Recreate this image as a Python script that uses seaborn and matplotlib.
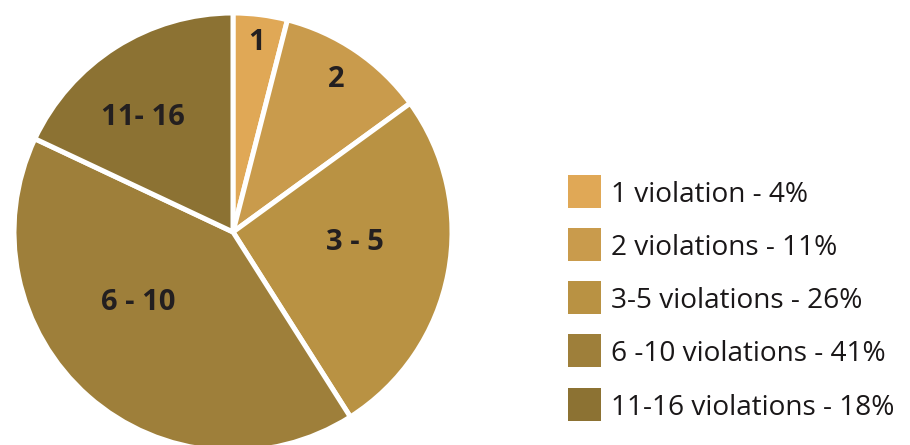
import matplotlib
matplotlib.use("Agg")
import matplotlib.pyplot as plt
import seaborn as sns
import numpy as np
from matplotlib.patches import Rectangle

# Data
categories = ["1", "2", "3 - 5", "6 - 10", "11- 16"]
legend_labels = ["1 violation - 4%", "2 violations - 11%", "3-5 violations - 26%",
                 "6 -10 violations - 41%", "11-16 violations - 18%"]
values = [4, 11, 26, 41, 18]
colors = ["#E0A856", "#C99B4C", "#B99243", "#9E7F3A", "#8C7233"]

# Layout / style for in-slice labels
label_radius = [0.87, 0.84, 0.56, 0.54, 0.665]
label_angle_offset = [0, 0, 6, -12, 6]

sns.set_theme(style="white")
plt.rcParams['font.family'] = ['Open Sans', 'DejaVu Sans']

fig = plt.figure(figsize=(9.1, 4.45), dpi=100)
W, H = 910, 445
cx, cy, R = 233, 232, 219
ax = fig.add_axes([(cx - R) / W, (H - cy - R) / H, 2 * R / W, 2 * R / H])

pal = sns.color_palette(colors)
wedges, _ = ax.pie(values, colors=pal, startangle=90, counterclock=False,
                   radius=1.0, wedgeprops=dict(edgecolor="white", linewidth=3.6))
ax.set_xlim(-1, 1)
ax.set_ylim(-1, 1)
ax.axis("off")
for w, lab, r, off in zip(wedges, categories, label_radius, label_angle_offset):
    mid = np.deg2rad((w.theta1 + w.theta2) / 2 + off)
    ax.text(r * np.cos(mid), r * np.sin(mid), lab, ha="center", va="center",
            fontsize=21, fontweight="bold", color="#231F20")

# Legend
y0, dy = 191, 53.3
sq = 33
for i, (lab, c) in enumerate(zip(legend_labels, colors)):
    yc = y0 + i * dy
    fig.patches.append(Rectangle((568 / W, (H - yc - sq / 2) / H), sq / W, sq / H,
                                 transform=fig.transFigure, facecolor=c, edgecolor="none"))
    fig.text(611 / W, (H - yc) / H, lab, ha="left", va="center_baseline",
             fontsize=20.2, color="#1A1718")

fig.savefig("out.png", dpi=100, facecolor="white")
